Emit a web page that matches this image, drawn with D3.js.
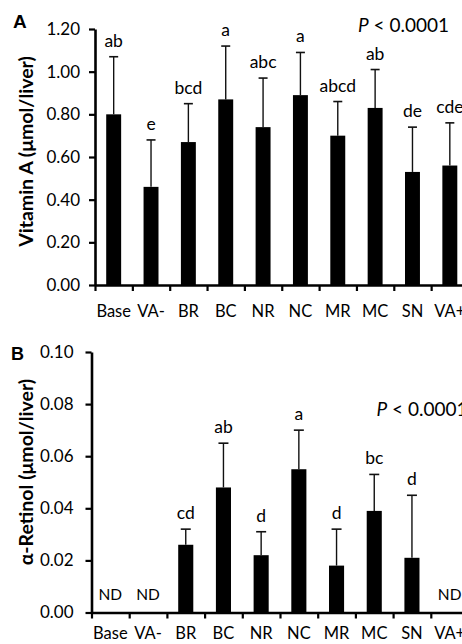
<!DOCTYPE html>
<html>
<head>
<meta charset="utf-8">
<script src="https://cdn.jsdelivr.net/npm/d3@7/dist/d3.min.js"></script>
<style>
  html, body { margin: 0; padding: 0; background: #fff; }
  svg { display: block; }
  text { font-family: Lato, "Open Sans", sans-serif; fill: #000; }
</style>
</head>
<body>
<svg id="chart" width="462" height="644"></svg>
<script>
// Diet groups shown on both panels
const groups = ["Base", "VA-", "BR", "BC", "NR", "NC", "MR", "MC", "SN", "VA+"];

// Panel A: liver vitamin A (μmol/liver), mean and mean + SD
const vitAMean = [0.80, 0.46, 0.67, 0.87, 0.74, 0.89, 0.70, 0.83, 0.53, 0.56];
const vitATop  = [1.07, 0.68, 0.85, 1.12, 0.97, 1.09, 0.86, 1.01, 0.74, 0.76];
const vitALetters = ["ab", "e", "bcd", "a", "abc", "a", "abcd", "ab", "de", "cde"];
const vitATicks = [0, 0.2, 0.4, 0.6, 0.8, 1.0, 1.2];

// Panel B: liver α-retinol (μmol/liver); null = not detected
const alphaMean = [null, null, 0.026, 0.048, 0.022, 0.055, 0.018, 0.039, 0.021, null];
const alphaTop  = [null, null, 0.032, 0.065, 0.031, 0.070, 0.032, 0.053, 0.045, null];
const alphaLetters = ["ND", "ND", "cd", "ab", "d", "a", "d", "bc", "d", "ND"];
const alphaTicks = [0, 0.02, 0.04, 0.06, 0.08, 0.10];

const svg = d3.select("#chart");

function panel(cfg) {
  const g = svg.append("g");
  const x = d3.scaleBand().domain(groups).range(cfg.xRange).paddingInner(0.6).paddingOuter(0.3);
  const edges = d3.scaleLinear().domain([0, groups.length]).range(cfg.xRange);
  const y = d3.scaleLinear().domain(cfg.yDomain).range(cfg.yRange);

  const rows = groups.map((d, i) => ({ g: d, v: cfg.mean[i], t: cfg.top[i], l: cfg.letters[i] }));
  const measured = rows.filter(d => d.v != null);
  const cx = d => x(d.g) + x.bandwidth() / 2;

  // bars
  g.selectAll("rect.bar").data(measured).join("rect")
    .attr("class", "bar")
    .attr("x", d => x(d.g))
    .attr("width", x.bandwidth())
    .attr("y", d => y(d.v))
    .attr("height", d => y(0) - y(d.v))
    .attr("fill", "#000");

  // error bars (upper only)
  const eb = g.selectAll("g.err").data(measured).join("g").attr("class", "err");
  eb.append("line")
    .attr("x1", cx).attr("x2", cx)
    .attr("y1", d => y(d.v)).attr("y2", d => y(d.t))
    .attr("stroke", "#111").attr("stroke-width", 1.4);
  eb.append("line")
    .attr("x1", d => cx(d) - cfg.cap / 2).attr("x2", d => cx(d) + cfg.cap / 2)
    .attr("y1", d => y(d.t)).attr("y2", d => y(d.t))
    .attr("stroke", "#111").attr("stroke-width", 1.6);

  // significance letters / ND
  g.selectAll("text.sig").data(rows).join("text")
    .attr("class", "sig")
    .attr("x", cx)
    .attr("y", d => d.v != null ? y(d.t) - 10 : cfg.ndY)
    .attr("text-anchor", "middle")
    .style("font-size", d => d.v != null ? "17.5px" : "15.5px")
    .text(d => d.l);

  // y axis
  const ya = g.append("g")
    .attr("transform", `translate(${cfg.xRange[0]},0)`)
    .call(d3.axisLeft(y).tickValues(cfg.ticks).tickFormat(d3.format(cfg.fmt))
      .tickSize(6).tickSizeOuter(0).tickPadding(cfg.yPad));
  ya.select(".domain").attr("stroke-width", 2.6);
  ya.selectAll(".tick line").attr("stroke-width", 2.2);
  ya.selectAll("text").style("font-size", "17px").attr("fill", "#000");

  // x axis: ticks at group boundaries
  const xe = g.append("g")
    .attr("transform", `translate(0,${cfg.yRange[0]})`)
    .call(d3.axisBottom(edges).tickValues(d3.range(groups.length + 1)).tickFormat("")
      .tickSize(6).tickSizeOuter(0));
  xe.select(".domain").attr("stroke-width", 2.6);
  xe.selectAll(".tick line").attr("stroke-width", 2.2);

  // x axis: group labels at band centres
  const xl = g.append("g")
    .attr("transform", `translate(0,${cfg.yRange[0]})`)
    .call(d3.axisBottom(x).tickSize(0).tickPadding(cfg.xPad));
  xl.select(".domain").remove();
  xl.selectAll("text").style("font-size", "16.5px").attr("fill", "#000");

  // axis title
  svg.append("text")
    .attr("transform", `translate(33,${cfg.titleY}) rotate(-90)`)
    .attr("text-anchor", "middle")
    .style("font-size", "19.5px").style("font-weight", "bold")
    .text(cfg.title);

  // panel letter
  svg.append("text")
    .attr("x", cfg.letterX).attr("y", cfg.letterY)
    .style("font-family", "'Liberation Sans', Arial, sans-serif")
    .style("font-weight", "bold").style("font-size", cfg.letterSize)
    .text(cfg.letter);

  // P value
  const p = svg.append("text")
    .attr("x", cfg.pX).attr("y", cfg.pY)
    .style("font-size", "19px");
  p.append("tspan").style("font-style", "italic").text("P");
  p.append("tspan").text(" < 0.0001");
}

panel({
  mean: vitAMean, top: vitATop, letters: vitALetters, ticks: vitATicks,
  xRange: [95, 468.5], yDomain: [0, 1.2], yRange: [285, 29],
  fmt: ".2f", yPad: 9, xPad: 20.5, cap: 9, ndY: 0,
  title: "Vitamin A (μmol/liver)", titleY: 151.5,
  letter: "A", letterX: 13, letterY: 28, letterSize: "19px",
  pX: 358, pY: 31.5
});

panel({
  mean: alphaMean, top: alphaTop, letters: alphaLetters, ticks: alphaTicks,
  xRange: [91.5, 468.5], yDomain: [0, 0.1], yRange: [612.5, 352],
  fmt: ".2f", yPad: 12, xPad: 14.5, cap: 10, ndY: 600,
  title: "α-Retinol (μmol/liver)", titleY: 472,
  letter: "B", letterX: 11, letterY: 360, letterSize: "18px",
  pX: 376.5, pY: 416
});
</script>
</body>
</html>
